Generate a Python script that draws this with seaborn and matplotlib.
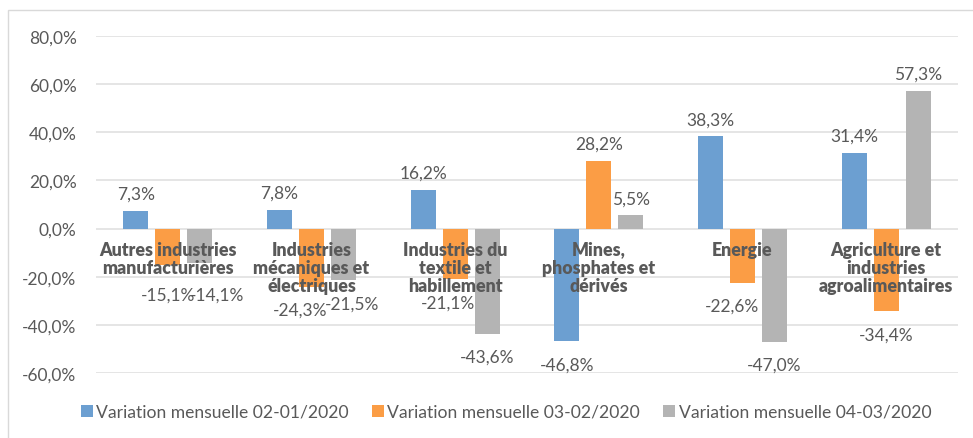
import matplotlib
matplotlib.use("Agg")
import matplotlib.pyplot as plt
from matplotlib.patches import Patch, Rectangle
import seaborn as sns
import pandas as pd

categories = ["Autres industries\nmanufacturières",
              "Industries\nmécaniques et\nélectriques",
              "Industries du\ntextile et\nhabillement",
              "Mines,\nphosphates et\ndérivés",
              "Energie",
              "Agriculture et\nindustries\nagroalimentaires"]
series = ["Variation mensuelle 02-01/2020",
          "Variation mensuelle 03-02/2020",
          "Variation mensuelle 04-03/2020"]
var_02_01 = [7.3, 7.8, 16.2, -46.8, 38.3, 31.4]
var_03_02 = [-15.1, -24.3, -21.1, 28.2, -22.6, -34.4]
var_04_03 = [-14.1, -21.5, -43.6, 5.5, -47.0, 57.3]
yticks = [-60, -40, -20, 0, 20, 40, 60, 80]
colors = ["#6C9FD1", "#FB9D45", "#B4B4B4"]

rows = []
for s, vals in zip(series, [var_02_01, var_03_02, var_04_03]):
    for c, v in zip(categories, vals):
        rows.append({"cat": c, "series": s, "value": v})
df = pd.DataFrame(rows)

sns.set_style("white")
plt.rcParams["font.family"] = ["Lato", "DejaVu Sans"]
TXT = "#595959"

fig = plt.figure(figsize=(9.73, 4.39), dpi=100)
ax = fig.add_axes([96/973, 1-374/439, 862/973, 337/439])
sns.barplot(data=df, x="cat", y="value", hue="series", order=categories,
            hue_order=series, palette=colors, width=0.67, gap=0.22,
            linewidth=0, saturation=1, legend=False, ax=ax, errorbar=None)

ax.set_ylim(-60, 80)
ax.set_xlim(-0.5, 5.5)
ax.set_yticks(yticks)
ax.set_yticklabels([f"{t:.1f}%".replace(".", ",") for t in yticks],
                   fontsize=12.5, color=TXT)
ax.tick_params(axis="y", length=0, pad=14)
ax.set_xticks([])
ax.set_xlabel("")
ax.set_ylabel("")
for sp in ax.spines.values():
    sp.set_visible(False)
ax.yaxis.grid(True, color="#E3E3E3", linewidth=1.3)
ax.set_axisbelow(True)

# value labels
xoff = {(0, 2): 17, (1, 1): -11, (1, 2): 8, (2, 1): -7, (4, 1): -10}
yoff = {(0, 1): -30, (0, 2): -32}
for si, container in enumerate(ax.containers):
    for ci, bar in enumerate(container):
        v = [var_02_01, var_03_02, var_04_03][si][ci]
        x = bar.get_x() + bar.get_width()/2
        dy = 17 if v >= 0 else -23
        dy = yoff.get((ci, si), dy)
        dx = xoff.get((ci, si), 0)
        ax.annotate(f"{v:.1f}%".replace(".", ","), (x, v),
                    xytext=(dx, dy), textcoords="offset pixels",
                    ha="center", va="center", fontsize=12.5, color=TXT,
                    annotation_clip=False, zorder=5)

# category labels at zero line
for i, c in enumerate(categories):
    ax.annotate(c, (i, 0), xytext=(0, -12), textcoords="offset pixels",
                ha="center", va="top", fontsize=12.8, fontweight="heavy",
                color=TXT, linespacing=1.08, zorder=6)

handles = [Patch(facecolor=col, edgecolor="none", label=s)
           for col, s in zip(colors, series)]
leg = fig.legend(handles=handles, loc="center", bbox_to_anchor=(0.52, 1-413/439),
                 ncol=3, frameon=False, fontsize=12.6, handlelength=0.7,
                 handleheight=0.7, handletextpad=0.2, columnspacing=1.3)
for t in leg.get_texts():
    t.set_color(TXT)

fig.patches.append(Rectangle((8/973, -0.1), 1.2, 1-11/439+0.1,
                             transform=fig.transFigure, fill=False,
                             edgecolor="#D9D9D9", linewidth=1))

fig.savefig("out.png", dpi=100)
